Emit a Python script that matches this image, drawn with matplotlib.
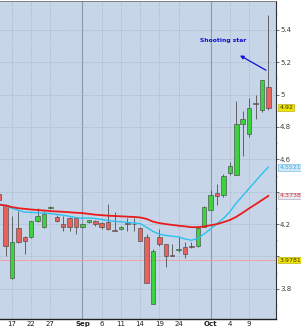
import numpy as np
from matplotlib import pyplot as plt
from matplotlib.transforms import blended_transform_factory

# trading days Aug 15 .. Oct 12 (index 0 = Aug 17)
days = list(range(-2, 41))

opens = [4.385, 4.317, 3.868, 4.177, 4.118, 4.118, 4.218, 4.18, 4.297, 4.245,
         4.198, 4.239, 4.239, 4.183, 4.211, 4.221, 4.204, 4.214, 4.162, 4.169,
         4.202, 4.2, 4.173, 4.118, 3.708, 4.118, 4.077, 4.007, 4.038, 4.057,
         4.062, 4.066, 4.183, 4.29, 4.389, 4.378, 4.518, 4.506, 4.82, 4.754,
         4.946, 4.902, 5.049]
highs = [4.40, 4.325, 4.249, 4.28, 4.125, 4.222, 4.297, 4.28, 4.31, 4.255,
         4.251, 4.245, 4.243, 4.2, 4.226, 4.226, 4.214, 4.327, 4.272, 4.19,
         4.24, 4.24, 4.18, 4.138, 4.044, 4.167, 4.08, 4.075, 4.128, 4.091,
         4.09, 4.18, 4.31, 4.409, 4.446, 4.512, 4.583, 4.959, 4.90, 4.98,
         5.0, 5.091, 5.49]
lows = [4.34, 4.005, 3.862, 4.083, 4.015, 4.112, 4.212, 4.176, 4.292, 4.212,
        4.157, 4.157, 4.137, 4.178, 4.206, 4.19, 4.169, 4.165, 4.155, 4.165,
        4.155, 4.16, 4.095, 3.835, 3.705, 4.067, 3.937, 4.0, 4.03, 3.989,
        4.05, 4.06, 4.18, 4.285, 4.32, 4.37, 4.506, 4.502, 4.62, 4.74,
        4.85, 4.895, 4.905]
closes = [4.348, 4.067, 4.087, 4.087, 4.097, 4.218, 4.247, 4.26, 4.307, 4.218,
          4.183, 4.183, 4.183, 4.198, 4.223, 4.2, 4.183, 4.167, 4.158, 4.183,
          4.2, 4.198, 4.097, 3.839, 4.036, 4.077, 4.003, 4.001, 4.048, 4.015,
          4.058, 4.174, 4.306, 4.378, 4.373, 4.497, 4.561, 4.82, 4.848, 4.918,
          4.94, 5.091, 4.92]

ma_slow = [4.32, 4.315, 4.305, 4.298, 4.294, 4.29, 4.287, 4.284, 4.28, 4.278,
           4.276, 4.273, 4.27, 4.268, 4.263, 4.258, 4.255, 4.252, 4.25, 4.248,
           4.246, 4.244, 4.241, 4.232, 4.215, 4.206, 4.2, 4.195, 4.19, 4.186,
           4.181, 4.181, 4.185, 4.193, 4.2, 4.212, 4.225, 4.245, 4.27, 4.297,
           4.322, 4.348, 4.374]
ma_fast = [4.325, 4.312, 4.298, 4.285, 4.274, 4.272, 4.27, 4.268, 4.265, 4.26,
           4.255, 4.248, 4.24, 4.236, 4.238, 4.234, 4.228, 4.222, 4.217, 4.214,
           4.21, 4.207, 4.203, 4.18, 4.155, 4.137, 4.13, 4.125, 4.12, 4.108,
           4.1, 4.112, 4.14, 4.17, 4.204, 4.235, 4.276, 4.33, 4.375, 4.42,
           4.465, 4.51, 4.552]

tick_pos = [0, 3, 6, 11, 14, 17, 20, 23, 26, 31, 34, 37]
tick_lab = ['17', '22', '27', 'Sep', '6', '11', '14', '19', '24', 'Oct', '4', '9']
month_pos = [11, 31]

y_ticks = [3.8, 4.0, 4.2, 4.4, 4.6, 4.8, 5.0, 5.2, 5.4]
y_lab = ['3.8', '', '4.2', '', '4.6', '4.8', '5', '5.2', '5.4']

support = 3.9781
last_close = 4.92
fast_last = 4.5521
slow_last = 4.3738

fig = plt.figure(figsize=(3.01, 3.29), dpi=100)
ax = fig.add_axes([0.0, 0.031, 0.917, 0.966])
ax.set_facecolor('#c6d6e8')

ax.set_xlim(-1.87, 41.2)
ax.set_ylim(3.615, 5.578)

# grid
for p in tick_pos:
    if p in month_pos:
        ax.axvline(p, color='#8a9aae', lw=0.8, zorder=0)
    else:
        ax.axvline(p, color='#9aaabd', lw=0.5, ls=(0, (1, 1.5)), zorder=0)
for v in y_ticks:
    ax.axhline(v, color='#9aaabd', lw=0.5, ls=(0, (1, 1.5)), zorder=0)

ax.axhline(support, color='#f0a0a8', lw=0.7, zorder=1)

# candles
o = np.array(opens)
c = np.array(closes)
x = np.array(days)
up = c >= o
ax.vlines(x, lows, highs, color='#505050', lw=0.6, zorder=2)
bottom = np.minimum(o, c)
height = np.maximum(np.abs(c - o), 0.004)
cols = np.where(up, '#3ed23e', '#e8625c')
ax.bar(x, height, bottom=bottom, width=0.7, color=cols, edgecolor='#404040',
       linewidth=0.4, zorder=3)

ax.plot(days, ma_fast, color='#2cc0f0', lw=1.0, zorder=4)
ax.plot(days, ma_slow, color='#e81c1c', lw=1.3, zorder=4)

# annotation
ax.text(32.9, 5.332, 'Shooting star', color='#1010d0', fontsize=4.3,
        fontweight='bold', ha='center', va='center')
ax.annotate('', xy=(35.2, 5.25), xytext=(40.0, 5.142),
            arrowprops=dict(arrowstyle='-|>', color='#1010d0', lw=0.9,
                            mutation_scale=5))

# axes
ax.yaxis.tick_right()
ax.set_yticks(y_ticks)
ax.set_yticklabels(y_lab)
ax.set_yticks(np.arange(3.7, 5.6, 0.1), minor=True)
ax.tick_params(axis='y', which='major', labelsize=5, length=2, width=0.5,
               colors='#404040', pad=1)
ax.tick_params(axis='y', which='minor', length=1, width=0.4, colors='#606060')
ax.set_xticks(tick_pos)
ax.set_xticklabels(tick_lab)
ax.tick_params(axis='x', labelsize=5, length=0, pad=1.5, colors='#202020')
for lab in ax.get_xticklabels():
    if lab.get_text() in ('Sep', 'Oct'):
        lab.set_fontweight('bold')

ax.spines['left'].set_visible(False)
ax.spines['top'].set_color('#707070')
ax.spines['top'].set_linewidth(0.6)
ax.spines['right'].set_color('#303030')
ax.spines['right'].set_linewidth(0.8)
ax.spines['bottom'].set_color('#202020')
ax.spines['bottom'].set_linewidth(1.0)

# value tags on the right axis
tr = blended_transform_factory(ax.transAxes, ax.transData)
tags = [(last_close, '4.92', '#f2e600', '#303000', '#b0a000'),
        (fast_last, '4.5521', '#d0e8f8', '#40b0e0', '#60b8e0'),
        (slow_last, '4.3738', '#e8e8f0', '#e03030', '#a0a0b0'),
        (support, '3.9781', '#f2e600', '#303000', '#b0a000')]
for val, txt, bg, fg, ec in tags:
    ax.text(1.012, val, txt, transform=tr, fontsize=4.5, color=fg,
            ha='left', va='center', clip_on=False, zorder=10,
            bbox=dict(boxstyle='square,pad=0.15', fc=bg, ec=ec, lw=0.4))

fig.savefig('out.png', dpi=100)
